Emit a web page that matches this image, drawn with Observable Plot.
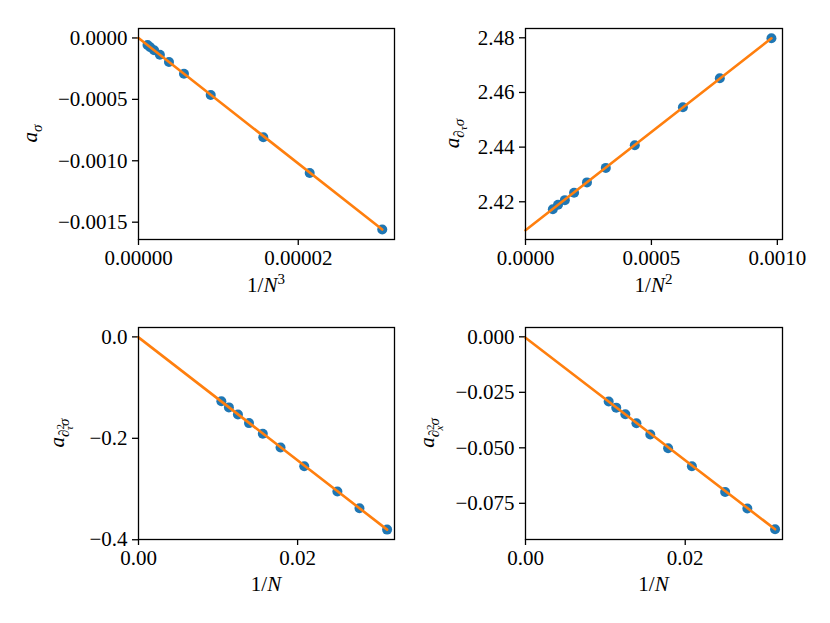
<!DOCTYPE html>
<html>
<head>
<meta charset="utf-8">
<script src="https://cdn.jsdelivr.net/npm/d3@7"></script>
<script src="https://cdn.jsdelivr.net/npm/@observablehq/plot@0.6"></script>
<style>
  html, body { margin: 0; padding: 0; background: white; }
  #wrap { position: relative; width: 830px; height: 623px; background: white; overflow: hidden; }
  #wrap > svg { position: absolute; overflow: visible; }
  #wrap svg, #wrap svg text, #wrap svg tspan { font-family: "Liberation Serif", serif !important; }
</style>
</head>
<body>
<div id="wrap"></div>
<script>
// ---- data ----
const N = [96, 88, 80, 72, 64, 56, 48, 40, 36, 32];

const aSigma = [-0.000058, -0.000076, -0.0001, -0.000137, -0.000196, -0.000291, -0.000465, -0.000808, -0.0011, -0.00156];
const aDtauSigma = [2.4173, 2.4189, 2.4206, 2.4233, 2.4271, 2.4324, 2.4407, 2.4546, 2.4652, 2.4798];
const aDtau2Sigma = [-0.127, -0.139, -0.153, -0.170, -0.191, -0.218, -0.255, -0.305, -0.338, -0.380];
const aDx2Sigma = [-0.0291, -0.0319, -0.0349, -0.0389, -0.0440, -0.0502, -0.0583, -0.0699, -0.0773, -0.0867];

// fitted lines (from x = 0 to the last point)
const fit1X = [0, 1 / 32 ** 3], fit1Y = [0.0, -0.00156];
const fit2X = [0, 1 / 32 ** 2], fit2Y = [2.4096, 2.4798];
const fit3X = [0, 1 / 32],      fit3Y = [-0.001, -0.380];
const fit4X = [0, 1 / 32],      fit4Y = [-0.0004, -0.0867];

// tick values
const x1Ticks = [0, 0.00002], y1Ticks = [0, -0.0005, -0.0010, -0.0015];
const x2Ticks = [0, 0.0005, 0.0010], y2Ticks = [2.42, 2.44, 2.46, 2.48];
const x3Ticks = [0, 0.02], y3Ticks = [0, -0.2, -0.4];
const x4Ticks = [0, 0.02], y4Ticks = [0, -0.025, -0.050, -0.075];

// ---- drawing ----
const FONT = "Liberation Serif";
const BLUE = "#1f77b4", ORANGE = "#ff7f0e";
const wrap = document.getElementById("wrap");

function addText(svg, x, y, rotate, parts) {
  const t = d3.select(svg).append("text")
    .attr("transform", `translate(${x},${y}) rotate(${rotate})`)
    .attr("text-anchor", "middle")
    .attr("font-family", FONT)
    .attr("font-size", 21)
    .attr("fill", "black");
  for (const p of parts) {
    const s = t.append("tspan").text(p.t)
      .attr("font-size", p.size || 21)
      .attr("font-style", p.it ? "italic" : "normal");
    if (p.dy) s.attr("dy", p.dy);
    if (p.dx) s.attr("dx", p.dx);
  }
}

function panel(o) {
  const pts = o.xs.map((x, i) => ({x, y: o.ys[i]}));
  const fit = o.fitX.map((x, i) => ({x, y: o.fitY[i]}));
  const svg = Plot.plot({
    width: o.w, height: o.h,
    marginLeft: o.mL, marginRight: o.mR, marginTop: o.mT, marginBottom: o.mB,
    x: {domain: o.xDomain, axis: null},
    y: {domain: o.yDomain, axis: null},
    style: {fontFamily: FONT, fontSize: "21px", color: "black"},
    marks: [
      Plot.axisX(o.xTicks, {tickFormat: d3.format(o.xFmt), tickSize: 6, tickPadding: 5, strokeWidth: 1.3, fontSize: 21, label: null}),
      Plot.axisY(o.yTicks, {tickFormat: d3.format(o.yFmt), tickSize: 6, tickPadding: 5, strokeWidth: 1.3, fontSize: 21, label: null}),
      Plot.dot(pts, {x: "x", y: "y", r: 5, fill: BLUE, stroke: null}),
      Plot.line(fit, {x: "x", y: "y", stroke: ORANGE, strokeWidth: 2.6}),
      Plot.frame({stroke: "black", strokeWidth: 1.3})
    ]
  });
  svg.style.left = o.left + "px";
  svg.style.top = o.top + "px";
  svg.style.background = "transparent";
  svg.style.overflow = "visible";
  wrap.appendChild(svg);
  addText(svg, o.yl[0], o.yl[1], -90, o.yLabel);
  addText(svg, o.xl[0], o.xl[1], 0, o.xLabel);
}

const inv = p => N.map(n => 1 / n ** p);

panel({
  left: 0, top: 0, w: 415, h: 310, mL: 138, mR: 21, mT: 28, mB: 71,
  xDomain: [0, 3.205e-5], yDomain: [-0.001641, 0.000077],
  xTicks: x1Ticks, xFmt: ".5f", yTicks: y1Ticks, yFmt: ".4f",
  xs: inv(3), ys: aSigma, fitX: fit1X, fitY: fit1Y,
  yl: [37, 133.5], xl: [266, 292],
  yLabel: [{t: "a", it: true}, {t: "σ", it: true, dy: 5, size: 15}],
  xLabel: [{t: "1/"}, {t: "N", it: true}, {t: "3", dy: -8, size: 15}]
});

panel({
  left: 415, top: 0, w: 415, h: 310, mL: 110, mR: 48, mT: 28, mB: 71,
  xDomain: [0, 1.0205e-3], yDomain: [2.4062, 2.4834],
  xTicks: x2Ticks, xFmt: ".4f", yTicks: y2Ticks, yFmt: ".2f",
  xs: inv(2), ys: aDtauSigma, fitX: fit2X, fitY: fit2Y,
  yl: [44, 133.5], xl: [238.5, 292],
  yLabel: [{t: "a", it: true}, {t: "∂", dy: 5, size: 15}, {t: "τ", it: true, dy: 3, size: 11}, {t: "σ", it: true, dy: -3, size: 15}],
  xLabel: [{t: "1/"}, {t: "N", it: true}, {t: "2", dy: -8, size: 15}]
});

panel({
  left: 0, top: 310, w: 415, h: 313, mL: 138, mR: 21, mT: 17, mB: 84,
  xDomain: [0, 0.03218], yDomain: [-0.3995, 0.0185],
  xTicks: x3Ticks, xFmt: ".2f", yTicks: y3Ticks, yFmt: ".1f",
  xs: inv(1), ys: aDtau2Sigma, fitX: fit3X, fitY: fit3Y,
  yl: [64, 123], xl: [266, 281],
  yLabel: [{t: "a", it: true}, {t: "∂", dy: 5, size: 15}, {t: "2", dy: -5, size: 11}, {t: "τ", it: true, dx: -6, dy: 9, size: 11}, {t: "σ", it: true, dy: -4, size: 15}],
  xLabel: [{t: "1/"}, {t: "N", it: true}]
});

panel({
  left: 415, top: 310, w: 415, h: 313, mL: 110, mR: 48, mT: 17, mB: 84,
  xDomain: [0, 0.03218], yDomain: [-0.0913, 0.0042],
  xTicks: x4Ticks, xFmt: ".2f", yTicks: y4Ticks, yFmt: ".3f",
  xs: inv(1), ys: aDx2Sigma, fitX: fit4X, fitY: fit4Y,
  yl: [19, 123], xl: [238.5, 281],
  yLabel: [{t: "a", it: true}, {t: "∂", dy: 5, size: 15}, {t: "2", dy: -5, size: 11}, {t: "x", it: true, dx: -6, dy: 9, size: 11}, {t: "σ", it: true, dy: -4, size: 15}],
  xLabel: [{t: "1/"}, {t: "N", it: true}]
});
</script>
</body>
</html>
